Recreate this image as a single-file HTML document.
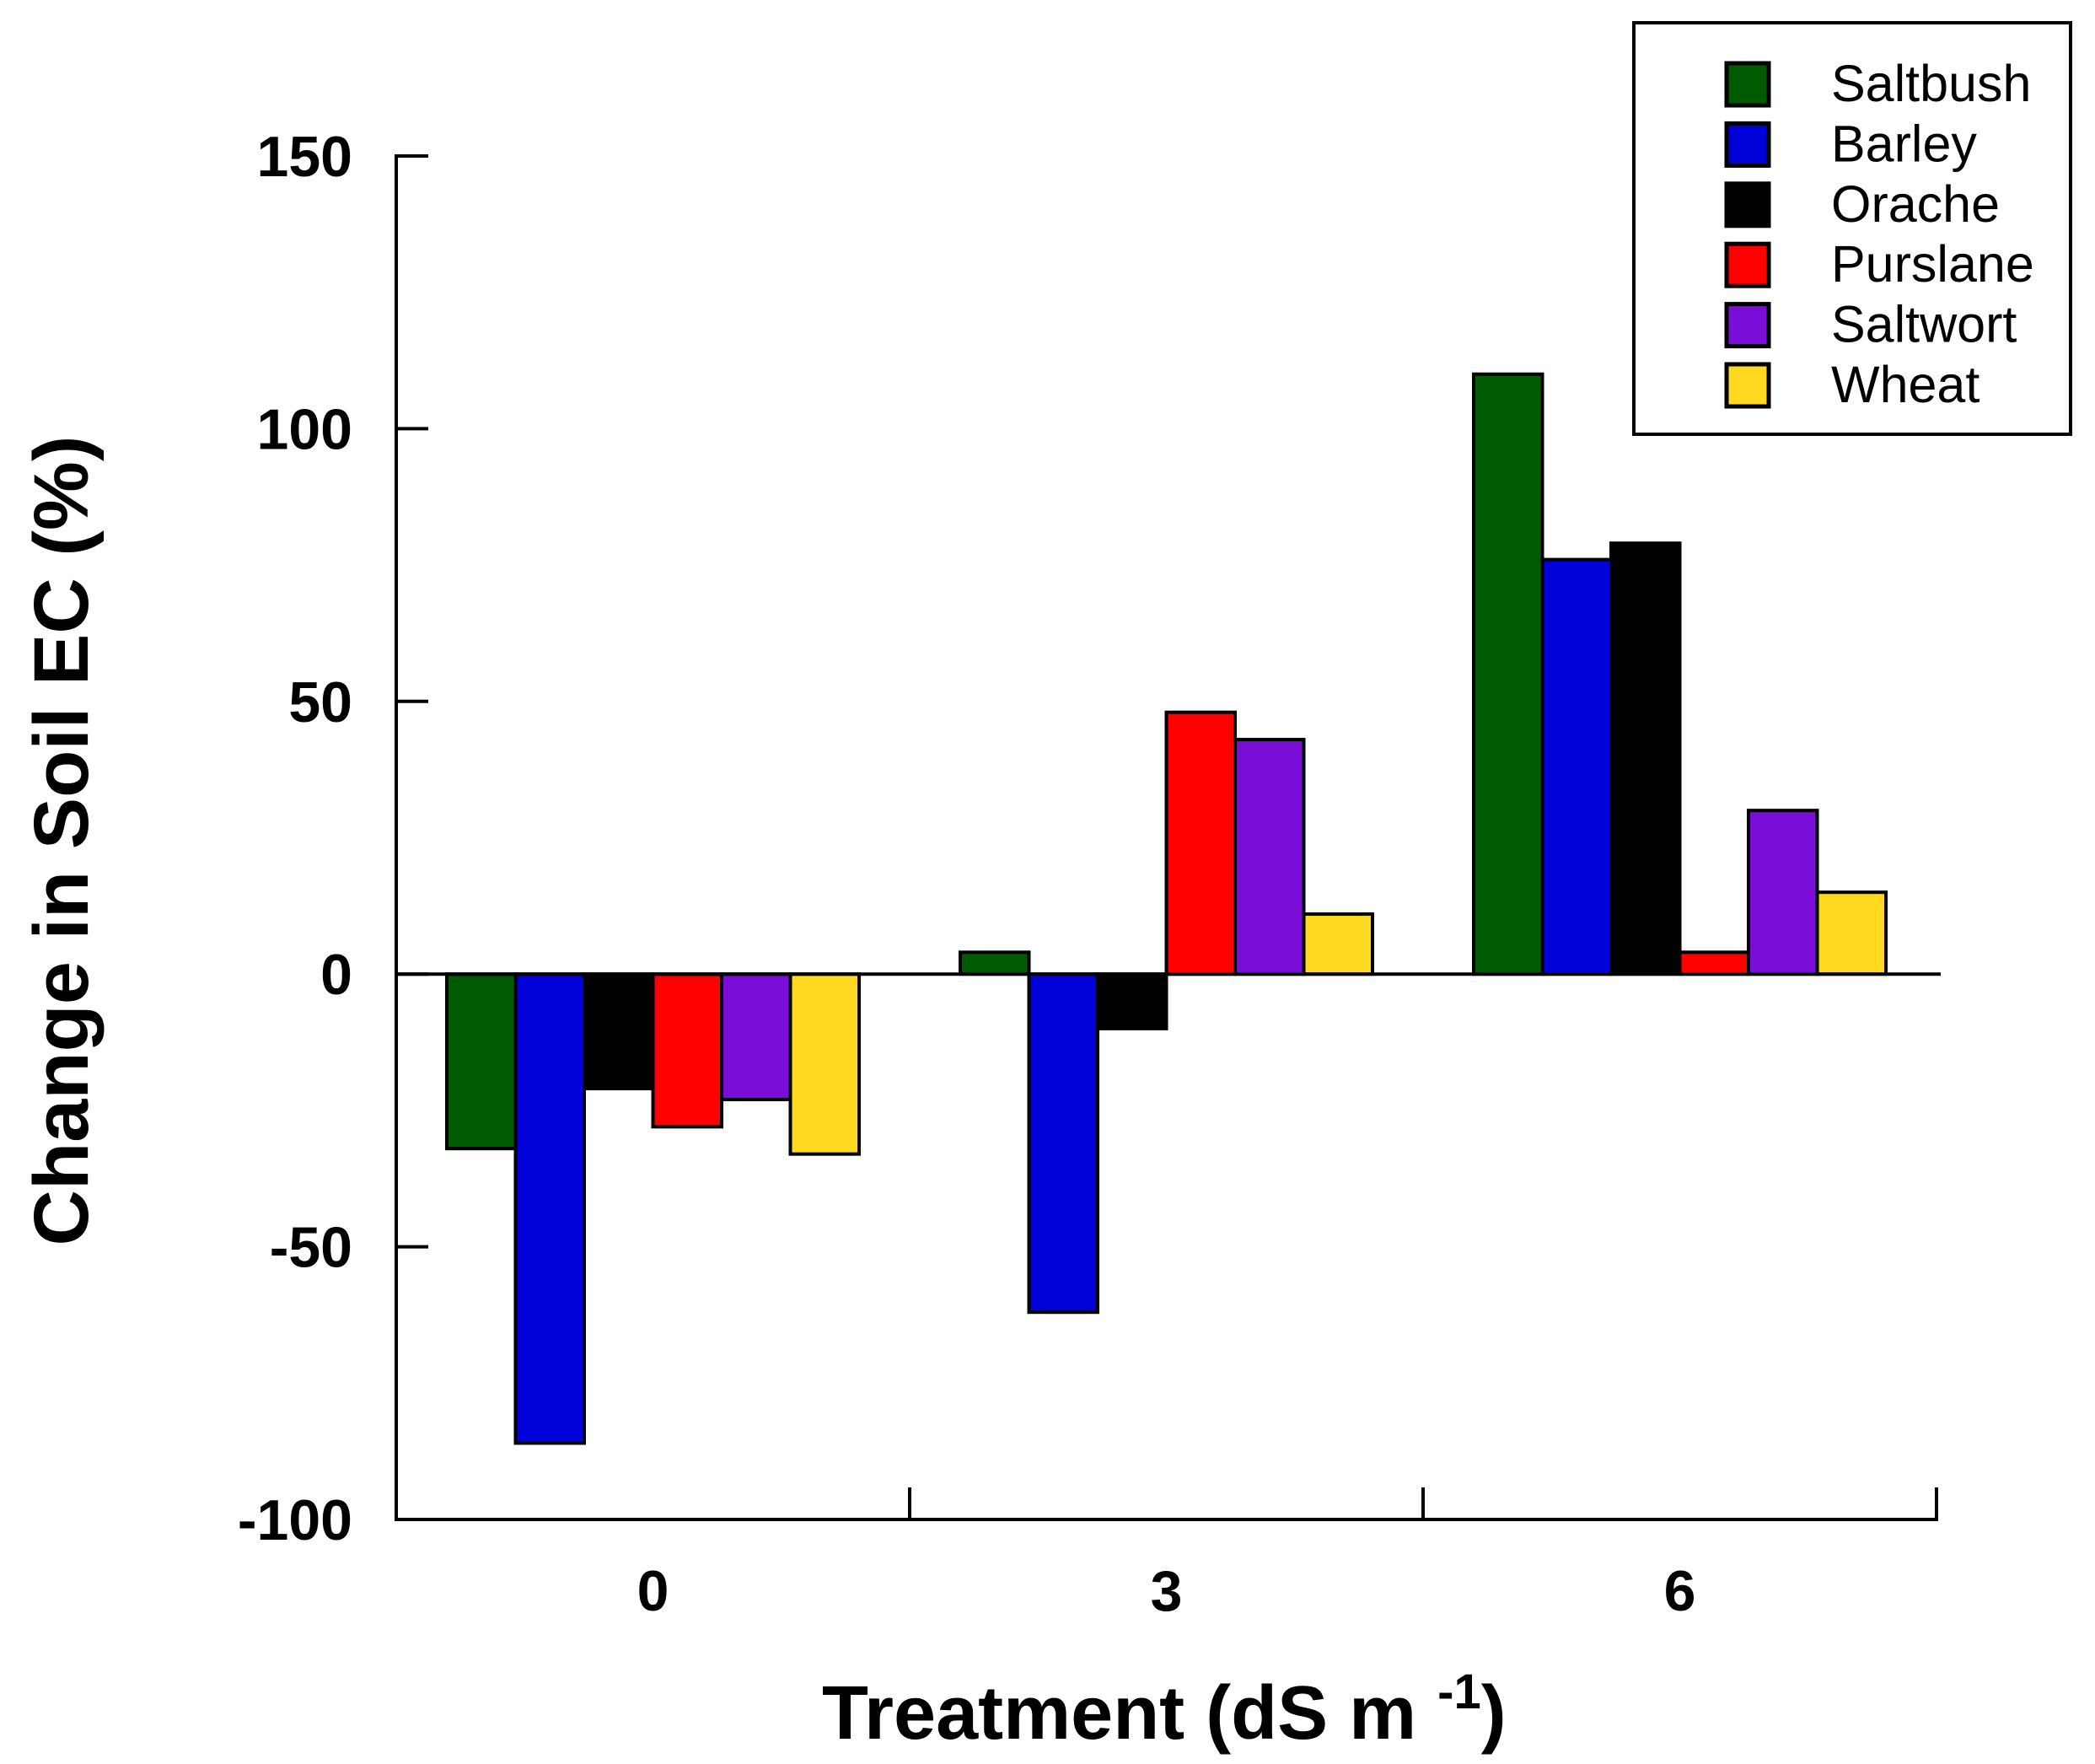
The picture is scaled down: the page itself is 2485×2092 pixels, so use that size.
<!DOCTYPE html>
<html><head><meta charset="utf-8"><style>
html,body{margin:0;padding:0;background:#fff}
svg{display:block}
text{font-family:"Liberation Sans",Arial,sans-serif}
</style></head><body>
<svg id="chart" width="2485" height="2092" viewBox="0 0 2485 2092">
<g id="plot"></g>
</svg>
<script>
const categories = ["0","3","6"];
const seriesNames = ["Saltbush","Barley","Orache","Purslane","Saltwort","Wheat"];
const seriesColors = ["#005a00","#0000d8","#000000","#ff0000","#7a0ed8","#ffd820"];
const saltbush = [-32, 4, 110];
const barley = [-86, -62, 76];
const orache = [-21, -10, 79];
const purslane = [-28, 48, 4];
const saltwort = [-23, 43, 30];
const wheat = [-33, 11, 15];
const yTicks = [150, 100, 50, 0, -50, -100];

const series = [saltbush, barley, orache, purslane, saltwort, wheat];
const NS = "http://www.w3.org/2000/svg";
const g = document.getElementById('plot');
const X0 = 470, X1 = 2297, Ytop = 185, Ybot = 1802, vMax = 150, vMin = -100;
function y(v){ return Ytop + (vMax - v) * (Ybot - Ytop) / (vMax - vMin); }
const groupW = (X1 - X0) / categories.length;
const pad = 60, barW = (groupW - 2*pad) / seriesNames.length;
function x(ci, si){ return X0 + ci*groupW + pad + si*barW; }
function el(tag, attrs){ const e = document.createElementNS(NS, tag); for (const k in attrs) e.setAttribute(k, attrs[k]); g.appendChild(e); return e; }

series.forEach((vals, si) => {
  vals.forEach((v, ci) => {
    const r = el('rect', {x: x(ci, si), y: Math.min(y(v), y(0)), width: barW, height: Math.abs(y(v) - y(0)), fill: seriesColors[si], stroke: '#000', 'stroke-width': 4});
    
    
  });
});
let zl = el('line', {x1: X0, x2: 2302, y1: y(0), y2: y(0), stroke: '#000', 'stroke-width': 4});


let ya = el('line', {x1: X0, x2: X0, y1: Ytop - 2, y2: Ybot + 2, stroke: '#000', 'stroke-width': 4});


let xa = el('line', {x1: X0 - 2, x2: X1 + 2, y1: Ybot, y2: Ybot, stroke: '#000', 'stroke-width': 4});


yTicks.forEach(t => {
  const tk = el('line', {x1: X0, x2: X0 + 38, y1: y(t), y2: y(t), stroke: '#000', 'stroke-width': 4});
  
  
  const lb = el('text', {x: 418, y: y(t) + 24, 'text-anchor': 'end', 'font-size': 68, 'font-weight': 'bold'});
  lb.textContent = t;
  
  
});
categories.forEach((c, ci) => {
  const tk = el('line', {x1: X0 + (ci+1)*groupW, x2: X0 + (ci+1)*groupW, y1: Ybot, y2: Ybot - 38, stroke: '#000', 'stroke-width': 4});
  
  
  const lb = el('text', {x: X0 + (ci+0.5)*groupW, y: 1910, 'text-anchor': 'middle', 'font-size': 68, 'font-weight': 'bold'});
  lb.textContent = c;
  
  
});
let lbx = el('rect', {x: 1938, y: 27, width: 518, height: 488, fill: '#fff', stroke: '#000', 'stroke-width': 4});


seriesNames.forEach((n, si) => {
  const cy = 99 + si*71.4;
  const sq = el('rect', {x: 2048, y: cy - 24, width: 50, height: 50, fill: seriesColors[si], stroke: '#000', 'stroke-width': 5});
  
  
  const t = el('text', {x: 2172, y: cy + 21, 'font-size': 61});
  t.textContent = n;
  
  
});
</script>
<div style="position:absolute;left:0;top:0;width:2485px;height:2092px;pointer-events:none">
<svg width="2485" height="2092">
<text x="975" y="2062" font-size="90" font-weight="bold">Treatment (dS m <tspan dy="-36" font-size="58">-1</tspan><tspan dy="36">)</tspan></text>
<text transform="translate(104,997) rotate(-90)" text-anchor="middle" font-size="92" font-weight="bold">Change in Soil EC (%)</text>
</svg></div>
</body></html>
